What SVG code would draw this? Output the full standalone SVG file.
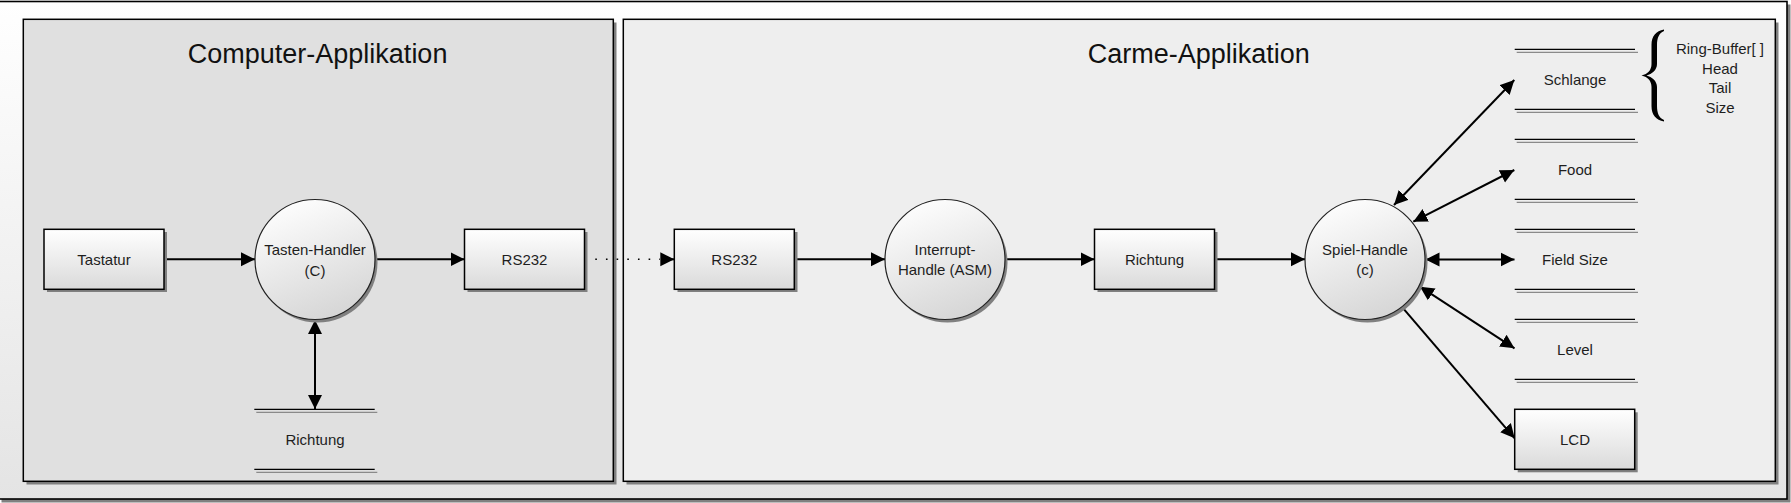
<svg xmlns="http://www.w3.org/2000/svg" width="1791" height="503" viewBox="0 0 1791 503">
  <defs>
    <linearGradient id="bgGrad" x1="0" y1="0" x2="0" y2="1">
      <stop offset="0" stop-color="#ffffff"/>
      <stop offset="1" stop-color="#e4e4e4"/>
    </linearGradient>
    <linearGradient id="nodeGrad" x1="0" y1="0" x2="0" y2="1">
      <stop offset="0" stop-color="#ffffff"/>
      <stop offset="1" stop-color="#dadada"/>
    </linearGradient>
    <linearGradient id="circGrad" x1="0.2" y1="0" x2="0.6" y2="1">
      <stop offset="0" stop-color="#ffffff"/>
      <stop offset="1" stop-color="#d6d6d6"/>
    </linearGradient>
    <marker id="arrow" markerUnits="userSpaceOnUse" markerWidth="15" markerHeight="15" refX="14" refY="7" orient="auto-start-reverse" viewBox="0 0 15 14">
      <path d="M0,0 L14,7 L0,14 Z" fill="#000"/>
    </marker>
  </defs>
  <style>
    .shadow { fill: #808080; }
    .panel { stroke: #000; stroke-width: 1.5; }
    .box { fill: url(#nodeGrad); stroke: #000; stroke-width: 1.5; }
    .circ { fill: url(#circGrad); stroke: #222; stroke-width: 1.2; }
    .sline { stroke: #000; stroke-width: 1.3; }
    .sline2 { stroke: #8a8a8a; stroke-width: 1.3; }
    .lbl { font-family: "Liberation Sans", Arial, sans-serif; font-size: 15px; fill: #1e1e1e; text-anchor: middle; }
    .title { font-family: "Liberation Sans", Arial, sans-serif; font-size: 27px; fill: #111; text-anchor: middle; }
    .conn { stroke: #000; stroke-width: 2; fill: none; }
    .dot { stroke: #000; stroke-width: 1.6; fill: none; stroke-dasharray: 1.6 9.07; }
  </style>

  <g id="background">
    <rect class="shadow" x="1.5" y="4.5" width="1789" height="498"/>
    <rect x="-2" y="1.5" width="1789" height="497.5" fill="url(#bgGrad)" stroke="#000" stroke-width="1.6"/>
  </g>

  <g id="panel-computer">
    <rect class="shadow" x="26.5" y="22.5" width="590" height="462"/>
    <rect class="panel" x="23.3" y="19.3" width="590" height="462" fill="#e0e0e0"/>
    <text class="title" x="317.6" y="63">Computer-Applikation</text>
  </g>

  <g id="panel-carme">
    <rect class="shadow" x="626.5" y="22.5" width="1152" height="462"/>
    <rect class="panel" x="623.3" y="19.3" width="1152" height="462" fill="#eeeeee"/>
    <text class="title" x="1198.7" y="63">Carme-Applikation</text>
  </g>

  <g id="connectors">
    <line class="conn" x1="164.5" y1="259.3" x2="255" y2="259.3" marker-end="url(#arrow)"/>
    <line class="conn" x1="375" y1="259.3" x2="464.5" y2="259.3" marker-end="url(#arrow)"/>
    <line class="conn" x1="315" y1="320" x2="315" y2="409" marker-start="url(#arrow)" marker-end="url(#arrow)"/>
    <line class="dot" x1="584.6" y1="259.3" x2="660" y2="259.3"/>
    <line class="conn" x1="662" y1="259.3" x2="674.3" y2="259.3" stroke-width="0.5" marker-end="url(#arrow)"/>
    <line class="conn" x1="794.5" y1="259.3" x2="885" y2="259.3" marker-end="url(#arrow)"/>
    <line class="conn" x1="1005" y1="259.3" x2="1094.5" y2="259.3" marker-end="url(#arrow)"/>
    <line class="conn" x1="1214.5" y1="259.3" x2="1305" y2="259.3" marker-end="url(#arrow)"/>
    <line class="conn" x1="1394" y1="205" x2="1514.3" y2="80" marker-start="url(#arrow)" marker-end="url(#arrow)"/>
    <line class="conn" x1="1413.3" y1="221.7" x2="1514.3" y2="170" marker-start="url(#arrow)" marker-end="url(#arrow)"/>
    <line class="conn" x1="1425.5" y1="259.5" x2="1514.5" y2="259.5" marker-start="url(#arrow)" marker-end="url(#arrow)"/>
    <line class="conn" x1="1420" y1="286.7" x2="1514.5" y2="348.3" marker-start="url(#arrow)" marker-end="url(#arrow)"/>
    <line class="conn" x1="1401.7" y1="306.7" x2="1514.7" y2="438.3" marker-end="url(#arrow)"/>
  </g>

  <g id="tastatur">
    <rect class="shadow" x="47" y="232" width="120" height="60"/>
    <rect class="box" x="44" y="229.3" width="120" height="60"/>
    <text class="lbl" x="104" y="264.5">Tastatur</text>
  </g>

  <g id="tasten-handler">
    <circle class="shadow" cx="317.5" cy="262.5" r="60"/>
    <circle class="circ" cx="315" cy="259.5" r="60"/>
    <text class="lbl" x="315" y="254.5">Tasten-Handler</text>
    <text class="lbl" x="315" y="275.5">(C)</text>
  </g>

  <g id="rs232-pc">
    <rect class="shadow" x="467.5" y="232" width="120" height="60"/>
    <rect class="box" x="464.5" y="229.3" width="120" height="60"/>
    <text class="lbl" x="524.5" y="264.5">RS232</text>
  </g>

  <g id="richtung-store-pc">
    <line class="sline2" x1="256.3" y1="412.3" x2="377.3" y2="412.3"/>
    <line class="sline" x1="254.3" y1="409.3" x2="374.7" y2="409.3"/>
    <line class="sline2" x1="256.3" y1="472.3" x2="377.3" y2="472.3"/>
    <line class="sline" x1="254.3" y1="469.3" x2="374.7" y2="469.3"/>
    <text class="lbl" x="315" y="445">Richtung</text>
  </g>

  <g id="rs232-carme">
    <rect class="shadow" x="677.5" y="232" width="120" height="60"/>
    <rect class="box" x="674.3" y="229.3" width="120" height="60"/>
    <text class="lbl" x="734.3" y="264.5">RS232</text>
  </g>

  <g id="interrupt-handle">
    <circle class="shadow" cx="947.5" cy="262.5" r="60"/>
    <circle class="circ" cx="945" cy="259.5" r="60"/>
    <text class="lbl" x="945" y="254.5">Interrupt-</text>
    <text class="lbl" x="945" y="275">Handle (ASM)</text>
  </g>

  <g id="richtung-carme">
    <rect class="shadow" x="1097.5" y="232" width="120" height="60"/>
    <rect class="box" x="1094.5" y="229.3" width="120" height="60"/>
    <text class="lbl" x="1154.5" y="264.5">Richtung</text>
  </g>

  <g id="spiel-handle">
    <circle class="shadow" cx="1367.5" cy="262.5" r="60"/>
    <circle class="circ" cx="1365" cy="259.5" r="60"/>
    <text class="lbl" x="1365" y="254.5">Spiel-Handle</text>
    <text class="lbl" x="1365" y="275">(c)</text>
  </g>

  <g id="schlange">
    <line class="sline2" x1="1516.7" y1="52.3" x2="1638" y2="52.3"/>
    <line class="sline" x1="1514.7" y1="49.3" x2="1635" y2="49.3"/>
    <line class="sline2" x1="1516.7" y1="112.3" x2="1638" y2="112.3"/>
    <line class="sline" x1="1514.7" y1="109.3" x2="1635" y2="109.3"/>
    <text class="lbl" x="1575" y="84.5">Schlange</text>
  </g>

  <g id="food">
    <line class="sline2" x1="1516.7" y1="142.3" x2="1638" y2="142.3"/>
    <line class="sline" x1="1514.7" y1="139.3" x2="1635" y2="139.3"/>
    <line class="sline2" x1="1516.7" y1="202.3" x2="1638" y2="202.3"/>
    <line class="sline" x1="1514.7" y1="199.3" x2="1635" y2="199.3"/>
    <text class="lbl" x="1575" y="174.5">Food</text>
  </g>

  <g id="field-size">
    <line class="sline2" x1="1516.7" y1="232.3" x2="1638" y2="232.3"/>
    <line class="sline" x1="1514.7" y1="229.3" x2="1635" y2="229.3"/>
    <line class="sline2" x1="1516.7" y1="292.3" x2="1638" y2="292.3"/>
    <line class="sline" x1="1514.7" y1="289.3" x2="1635" y2="289.3"/>
    <text class="lbl" x="1575" y="264.5">Field Size</text>
  </g>

  <g id="level">
    <line class="sline2" x1="1516.7" y1="322.3" x2="1638" y2="322.3"/>
    <line class="sline" x1="1514.7" y1="319.3" x2="1635" y2="319.3"/>
    <line class="sline2" x1="1516.7" y1="382.3" x2="1638" y2="382.3"/>
    <line class="sline" x1="1514.7" y1="379.3" x2="1635" y2="379.3"/>
    <text class="lbl" x="1575" y="354.5">Level</text>
  </g>

  <g id="lcd">
    <rect class="shadow" x="1517.7" y="412.3" width="120" height="60"/>
    <rect class="box" x="1514.7" y="409.3" width="120" height="60"/>
    <text class="lbl" x="1575" y="444.5">LCD</text>
  </g>

  <g id="schlange-fields">
    <path d="M1664,29.5 C1656,31 1651.5,36 1651.5,45 L1651.5,64 C1651.5,70 1648,74 1641.5,75.5 C1648,77 1651.5,81 1651.5,87 L1651.5,106 C1651.5,115 1656,120 1664,121.5 L1664,120 C1659,118 1657,113 1657,106 L1657,87 C1657,81 1652,77 1646.5,75.5 C1652,74 1657,70 1657,64 L1657,45 C1657,38 1659,33 1664,31 Z" fill="#000"/>
    <text class="lbl" x="1720" y="53.5">Ring-Buffer[ ]</text>
    <text class="lbl" x="1720" y="73.5">Head</text>
    <text class="lbl" x="1720" y="93">Tail</text>
    <text class="lbl" x="1720" y="113">Size</text>
  </g>
</svg>
